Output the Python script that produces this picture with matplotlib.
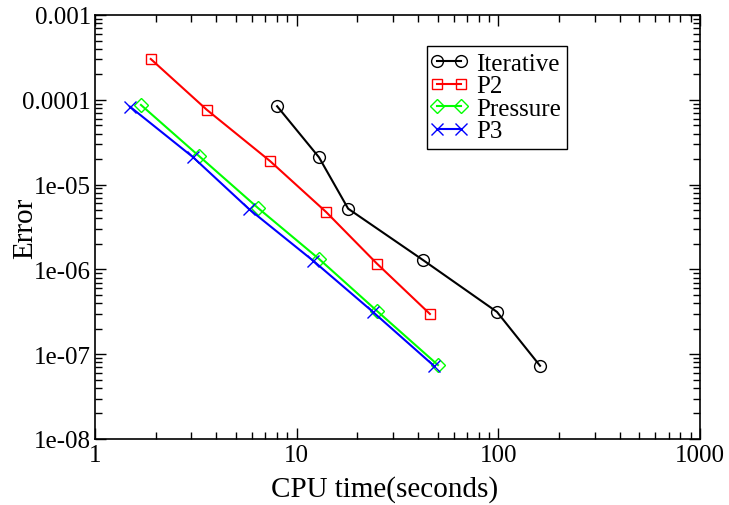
import matplotlib
matplotlib.use("Agg")
import matplotlib.pyplot as plt
from matplotlib.ticker import LogLocator, NullFormatter
from matplotlib.lines import Line2D
from matplotlib.legend_handler import HandlerLine2D

plt.rcParams['font.family'] = ['Liberation Serif', 'DejaVu Serif']
plt.rcParams['mathtext.fontset'] = 'stix'

# Data
iter_x = [8.0, 12.9, 18.0, 42.3, 98.5, 161.0]
iter_y = [8.4e-5, 2.1e-5, 5.2e-6, 1.29e-6, 3.15e-7, 7.3e-8]

p2_x = [1.89, 3.59, 7.37, 14.0, 25.0, 45.8]
p2_y = [3.03e-4, 7.6e-5, 1.9e-5, 4.75e-6, 1.17e-6, 2.98e-7]

pres_x = [1.69, 3.28, 6.43, 12.9, 25.0, 50.2]
pres_y = [8.7e-5, 2.17e-5, 5.3e-6, 1.33e-6, 3.24e-7, 7.45e-8]

p3_x = [1.49, 3.06, 5.8, 12.05, 23.9, 47.9]
p3_y = [8.3e-5, 2.11e-5, 5.15e-6, 1.27e-6, 3.15e-7, 7.3e-8]

labels = ["Iterative", "P2", "Pressure", "P3"]
colors = ["#000000", "#ff0000", "#00ff00", "#0000ff"]
markers = ["o", "s", "D", "x"]

xticks = [1, 10, 100, 1000]
xticklabels = ["1", "10", "100", "1000"]
yticks = [1e-8, 1e-7, 1e-6, 1e-5, 1e-4, 1e-3]
yticklabels = ["1e-08", "1e-07", "1e-06", "1e-05", "0.0001", "0.001"]

fig = plt.figure(figsize=(7.29, 5.06), dpi=100)
ax = fig.add_axes([95/729, 1-440/506, (700-95)/729, (440-16)/506])

series = [(iter_x, iter_y), (p2_x, p2_y), (pres_x, pres_y), (p3_x, p3_y)]
msizes = [8.5, 7.8, 7, 8]
for (x, y), lab, c, m, ms in zip(series, labels, colors, markers, msizes):
    ax.plot(x, y, color=c, lw=1.5, marker=m, ms=ms, mfc='none', mec=c, mew=1.0, label=lab)

ax.set_xscale('log')
ax.set_yscale('log')
ax.set_xlim(1, 1000)
ax.set_ylim(1e-8, 1e-3)
ax.set_xticks(xticks)
ax.set_xticklabels(xticklabels)
ax.set_yticks(yticks)
ax.set_yticklabels(yticklabels)
ax.xaxis.set_minor_locator(LogLocator(base=10, subs=range(2, 10)))
ax.yaxis.set_minor_locator(LogLocator(base=10, subs=range(2, 10)))
ax.xaxis.set_minor_formatter(NullFormatter())
ax.yaxis.set_minor_formatter(NullFormatter())

ax.tick_params(which='both', direction='in', top=True, right=True, labelsize=18, width=1.0)
ax.tick_params(which='major', length=8)
ax.tick_params(axis='y', which='major', pad=3)
ax.tick_params(axis='x', which='major', pad=3.5)
ax.tick_params(which='minor', length=5)
for s in ax.spines.values():
    s.set_linewidth(1.2)

ax.set_xlabel("CPU time(seconds)", fontsize=21)
ax.set_ylabel("Error", fontsize=21)
ax.xaxis.set_label_coords((384.5-95)/605, -0.085)
ax.yaxis.set_label_coords((38-95)/605, 0.5)

leg = ax.legend(loc='upper left', bbox_to_anchor=((427-95)/605, (440-47)/424),
                fontsize=18, numpoints=2, handlelength=1.25, handletextpad=0.45,
                labelspacing=0.0, borderpad=0.25, borderaxespad=0,
                fancybox=False, frameon=True, framealpha=1,
                handler_map={Line2D: HandlerLine2D(marker_pad=0.15, numpoints=2)})
leg.get_frame().set_edgecolor('black')
leg.get_frame().set_linewidth(1.0)

fig.savefig("out.png", dpi=100)
